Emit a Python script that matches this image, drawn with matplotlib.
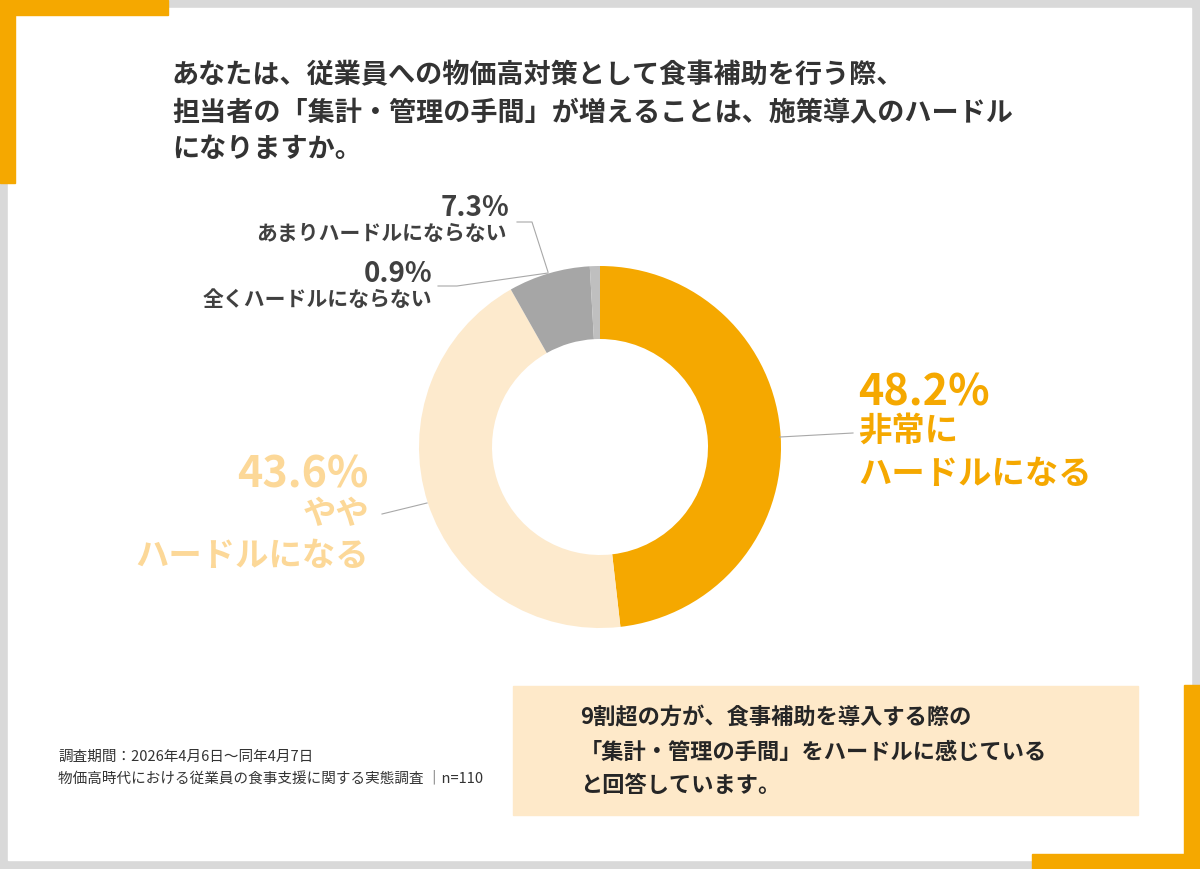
import matplotlib
matplotlib.use("Agg")
import matplotlib.pyplot as plt
from matplotlib.patches import Rectangle

plt.rcParams['font.family'] = ['Noto Sans CJK JP', 'DejaVu Sans']

# data
labels = ['非常に\nハードルになる', 'やや\nハードルになる', 'あまりハードルにならない', '全くハードルにならない']
values = [48.2, 43.6, 7.3, 0.9]
slice_colors = ['#F5A800', '#FDEACD', '#A6A6A6', '#BFBFBF']

title_lines = [
    'あなたは、従業員への物価高対策として食事補助を行う際、',
    '担当者の「集計・管理の手間」が増えることは、施策導入のハードル',
    'になりますか。',
]
note_lines = [
    '9割超の方が、食事補助を導入する際の',
    '「集計・管理の手間」をハードルに感じている',
    'と回答しています。',
]
footnote_lines = [
    '調査期間：2026年4月6日～同年4月7日',
    '物価高時代における従業員の食事支援に関する実態調査 ｜n=110',
]

W, H = 1200, 869
ORANGE = '#F5A800'
GRAY = '#D9D9D9'
DARK = '#333333'


def Y(y):
    # pixel row (top-down) -> axes coordinate
    return H - y


fig = plt.figure(figsize=(12, 8.69), dpi=100)
fig.patch.set_facecolor(GRAY)
ax = fig.add_axes([0, 0, 1, 1])

# white card + corner brackets
ax.add_patch(Rectangle((8, Y(860)), 1183, 852, color='white', zorder=0))
ax.add_patch(Rectangle((0, Y(15)), 168, 15, color=ORANGE, zorder=1))
ax.add_patch(Rectangle((0, Y(183)), 15, 183, color=ORANGE, zorder=1))
ax.add_patch(Rectangle((1184, Y(869)), 16, 184, color=ORANGE, zorder=1))
ax.add_patch(Rectangle((1032, Y(869)), 168, 15, color=ORANGE, zorder=1))

# donut
ax.pie(values, colors=slice_colors, startangle=90, counterclock=False,
       radius=181, center=(600, Y(447)),
       wedgeprops=dict(width=73, linewidth=0))

ax.set_xlim(0, W)
ax.set_ylim(0, H)
ax.set_aspect('auto')
ax.axis('off')

# title
for i, line in enumerate(title_lines):
    ax.text(172, Y(75 + i * 37), line, fontsize=19.5, fontweight='bold',
            color=DARK, ha='left', va='center')

# leader lines
lc = dict(color='#A8A8A8', lw=0.8, zorder=3)
ax.plot([780, 853], [Y(437), Y(433)], **lc)
ax.plot([382, 427], [Y(514), Y(503)], **lc)
ax.plot([517, 532, 548], [Y(222), Y(222), Y(272)], **lc)
ax.plot([438, 457, 548], [Y(286), Y(286), Y(273)], **lc)

# slice labels
big = labels[0].split('\n')
ax.text(858, Y(392), f'{values[0]}%', fontsize=31, fontweight='bold',
        color=ORANGE, ha='left', va='center')
ax.text(858, Y(431), big[0], fontsize=24, fontweight='bold',
        color=ORANGE, ha='left', va='center')
ax.text(858, Y(474), big[1], fontsize=24, fontweight='bold',
        color=ORANGE, ha='left', va='center')

beige_txt = '#FCD898'
mid = labels[1].split('\n')
ax.text(369, Y(474), f'{values[1]}%', fontsize=31, fontweight='bold',
        color=beige_txt, ha='right', va='center')
ax.text(369, Y(515), mid[0], fontsize=24, fontweight='bold',
        color=beige_txt, ha='right', va='center')
ax.text(369, Y(556), mid[1], fontsize=24, fontweight='bold',
        color=beige_txt, ha='right', va='center')

small_txt = '#404040'
ax.text(509, Y(208), f'{values[2]}%', fontsize=20, fontweight='bold',
        color=small_txt, ha='right', va='center')
ax.text(507, Y(234), labels[2], fontsize=15, fontweight='bold',
        color=small_txt, ha='right', va='center')
ax.text(432, Y(274), f'{values[3]}%', fontsize=20, fontweight='bold',
        color=small_txt, ha='right', va='center')
ax.text(432, Y(300), labels[3], fontsize=15, fontweight='bold',
        color=small_txt, ha='right', va='center')

# summary box
ax.add_patch(Rectangle((513, Y(815)), 625, 129, color='#FEE9C9', zorder=1))
for i, line in enumerate(note_lines):
    ax.text(580, Y(718 + i * 34), line, fontsize=16, fontweight='bold',
            color='#262626', ha='left', va='center', zorder=4)

# footnote
for i, line in enumerate(footnote_lines):
    ax.text(58, Y(757 + i * 21), line, fontsize=10.5, color=DARK,
            ha='left', va='center')

fig.savefig('out.png', dpi=100, facecolor=fig.get_facecolor())
